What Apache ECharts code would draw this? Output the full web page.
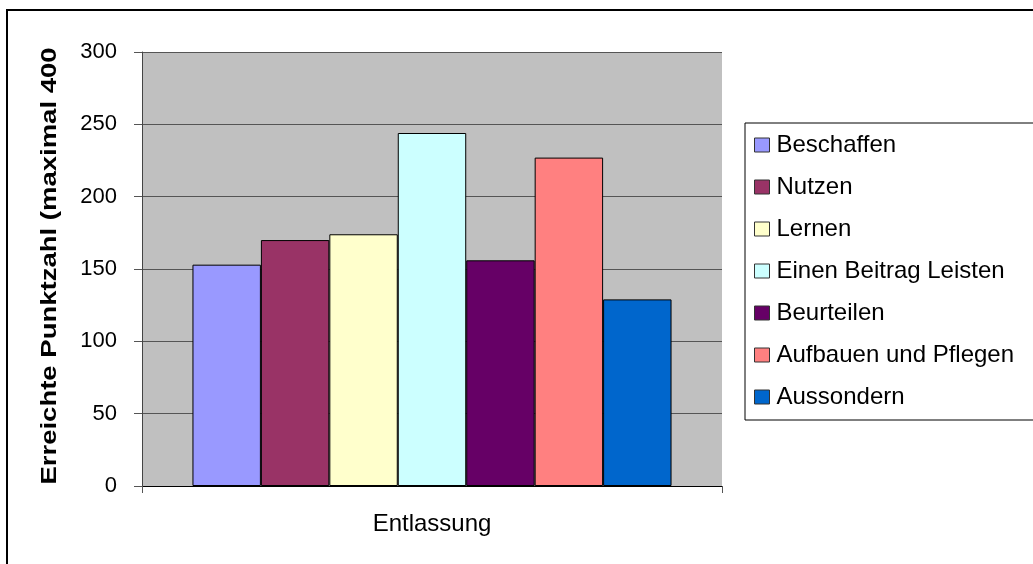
<!DOCTYPE html>
<html>
<head>
<meta charset="utf-8">
<script src="https://cdn.jsdelivr.net/npm/echarts@6/dist/echarts.min.js"></script>
<style>
html,body{margin:0;padding:0;background:#fff;}
#c{width:1033px;height:564px;}
</style>
</head>
<body>
<div id="c"></div>
<script>
const categories = ['Entlassung'];
const seriesNames = ['Beschaffen','Nutzen','Lernen','Einen Beitrag Leisten','Beurteilen','Aufbauen und Pflegen','Aussondern'];
const values = [153, 170, 174, 244, 156, 227, 129];
const colors = ['#9999FF','#993366','#FFFFCC','#CCFFFF','#660066','#FF8080','#0066CC'];
const yTicks = [0, 50, 100, 150, 200, 250, 300];
const yTitle = 'Erreichte Punktzahl (maximal 400';

const FONT = '"Liberation Sans", Arial, sans-serif';
const chart = echarts.init(document.getElementById('c'), null, {renderer:'canvas'});

const series = seriesNames.map((n, i) => ({
  name: n,
  type: 'bar',
  data: [values[i]],
  barGap: '0%',
  barCategoryGap: '17.4%',
  itemStyle: { color: colors[i], borderColor: '#000', borderWidth: 1 },
  emphasis: { disabled: true },
  animation: false
}));

chart.setOption({
  animation: false,
  backgroundColor: '#fff',
  textStyle: { fontFamily: FONT },
  grid: { left: 142, top: 52, right: 311, bottom: 78, show: true, backgroundColor: '#C0C0C0', borderWidth: 0 },
  legend: {
    orient: 'vertical',
    left: 745, top: 123,
    padding: [10, 40, 11, 9],
    itemWidth: 15, itemHeight: 14,
    itemGap: 18,
    borderColor: '#000', borderWidth: 1,
    backgroundColor: '#fff',
    icon: 'rect',
    itemStyle: { borderColor: '#333', borderWidth: 1 },
    textStyle: { fontFamily: FONT, fontSize: 24, color: '#000', padding: [0,0,0,2] },
    data: seriesNames
  },
  xAxis: {
    type: 'category',
    data: categories,
    axisLine: { lineStyle: { color: '#000', width: 1 } },
    axisTick: { show: true, length: 7, lineStyle: { color: '#555' } },
    axisLabel: { margin: 26, fontFamily: FONT, fontSize: 24, color: '#000' },
    splitLine: { show: false }
  },
  yAxis: {
    type: 'value',
    min: 0, max: 300, interval: 50,
    axisLine: { show: true, lineStyle: { color: '#444', width: 1 } },
    axisTick: { show: true, length: 8, lineStyle: { color: '#555' } },
    axisLabel: { margin: 25, fontFamily: FONT, fontSize: 22, color: '#000',
      formatter: v => yTicks.indexOf(v) >= 0 ? String(v) : '' },
    splitLine: { show: true, lineStyle: { color: '#555', width: 1 } }
  },
  graphic: [
    { type: 'rect', silent: true, z: -1,
      shape: { x: 7, y: 10, width: 1100, height: 700 },
      style: { fill: null, stroke: '#000', lineWidth: 2 } },
    { type: 'text', silent: true,
      x: 50, y: 266, rotation: Math.PI / 2, scaleX: 1.25,
      style: { text: yTitle, fontFamily: FONT, fontSize: 22, fontWeight: 'bold', fill: '#000',
        align: 'center', verticalAlign: 'middle' } }
  ],
  series: series
});
</script>
</body>
</html>
